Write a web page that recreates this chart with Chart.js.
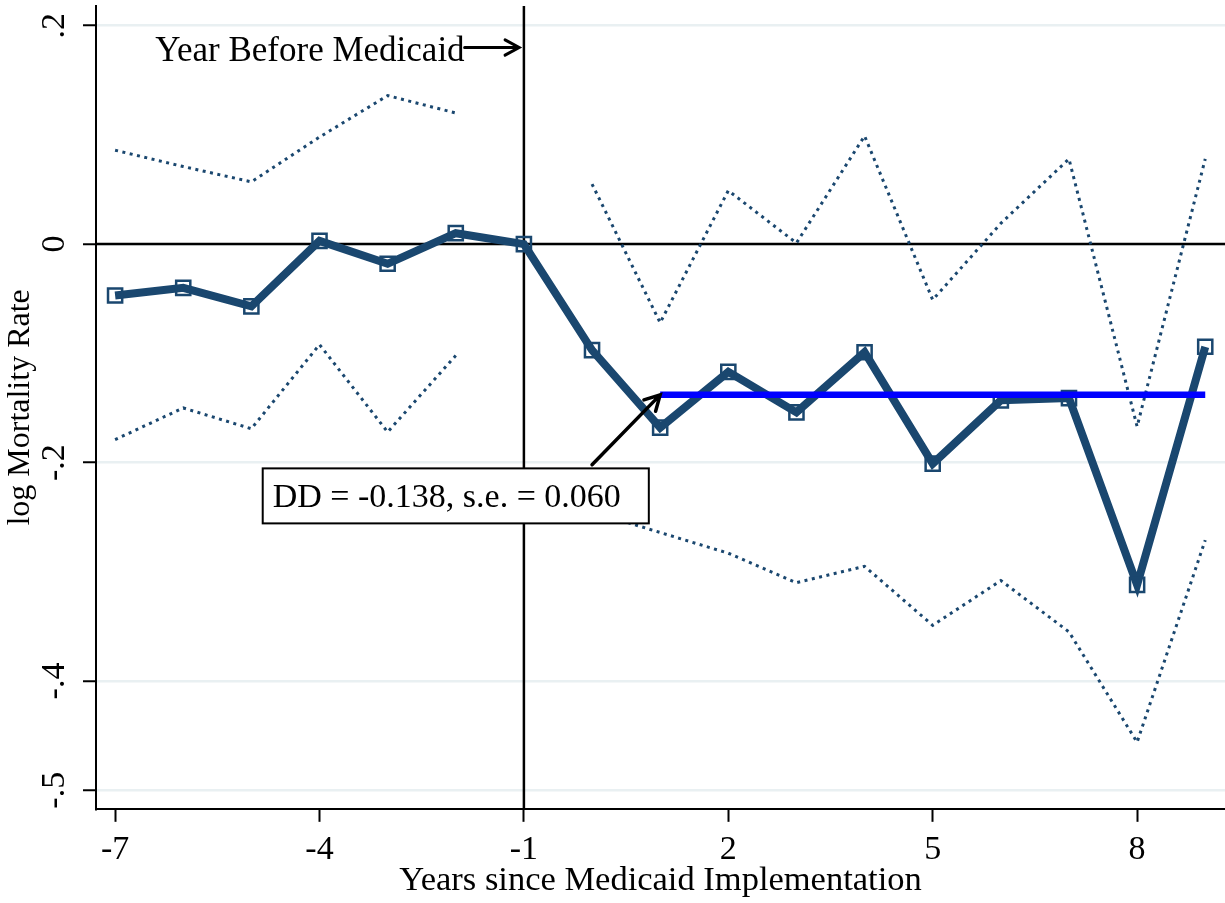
<!DOCTYPE html>
<html>
<head>
<meta charset="utf-8">
<script src="https://cdn.jsdelivr.net/npm/chart.js@4.4.0/dist/chart.umd.min.js"></script>
<style>
    html, body { margin: 0; padding: 0; background: #fff; }
    #wrap { width: 1225px; height: 903px; }
</style>
</head>
<body>
<div id="wrap"><canvas id="myChart"></canvas></div>
<script>
// years relative to the first year of Medicaid
const years = [-7, -6, -5, -4, -3, -2, -1, 0, 1, 2, 3, 4, 5, 6, 7, 8, 9];
// point estimates of log mortality rate
const estimate = [-0.047, -0.040, -0.057, 0.003, -0.018, 0.010, 0, -0.097, -0.168, -0.117, -0.154, -0.099, -0.201, -0.143, -0.141, -0.312, -0.094];
// 95% confidence band (no band for the reference year)
const upperCI = [0.086, 0.071, 0.057, 0.098, 0.136, 0.120, null, 0.055, -0.072, 0.049, 0.001, 0.099, -0.051, 0.019, 0.078, -0.167, 0.078];
const lowerCI = [-0.179, -0.150, -0.169, -0.092, -0.172, -0.102, null, -0.245, -0.264, -0.283, -0.310, -0.295, -0.349, -0.308, -0.355, -0.456, -0.271];
// difference-in-differences estimate and the years it covers
const ddValue = -0.138;
const ddSE = 0.060;
const ddYears = [1, 9];

const xTicks = [-7, -4, -1, 2, 5, 8];
const yTicks = [0.2, 0, -0.2, -0.4, -0.5];

const navy = "#1a476f";
const serif = "'Liberation Serif', 'Times New Roman', serif";

function stataLabel(v) {
    if (v === 0) return "0";
    return (v < 0 ? "-" : "") + String(Math.abs(v)).replace(/^0/, "");
}

function arrow(ctx, x1, y1, x2, y2, head) {
    const a = Math.atan2(y2 - y1, x2 - x1);
    ctx.beginPath();
    ctx.moveTo(x1, y1);
    ctx.lineTo(x2, y2);
    ctx.moveTo(x2 - head * Math.cos(a - 0.5), y2 - head * Math.sin(a - 0.5));
    ctx.lineTo(x2, y2);
    ctx.lineTo(x2 - head * Math.cos(a + 0.5), y2 - head * Math.sin(a + 0.5));
    ctx.stroke();
}

// the plot region runs right up to the canvas edges, so no edge room for labels
const noEdgePadding = {
    id: "noEdgePadding",
    beforeLayout(chart) {
        Object.values(chart.scales).forEach(s => {
            s.getPadding = () => ({ left: 0, top: 0, right: 0, bottom: 0 });
        });
    }
};

const annotations = {
    id: "annotations",
    beforeDatasetsDraw(chart) {
        const { ctx, chartArea, scales: { x, y } } = chart;
        ctx.save();
        ctx.strokeStyle = "black";
        ctx.lineWidth = 2.5;
        ctx.beginPath();
        const vx = x.getPixelForValue(-1);
        ctx.moveTo(vx, chartArea.top);
        ctx.lineTo(vx, chartArea.bottom);
        const hy = y.getPixelForValue(0);
        ctx.moveTo(chartArea.left, hy);
        ctx.lineTo(chartArea.right, hy);
        ctx.stroke();
        ctx.restore();
    },
    afterDatasetsDraw(chart) {
        const { ctx, scales: { x, y } } = chart;
        ctx.save();
        ctx.strokeStyle = "black";
        ctx.fillStyle = "black";
        ctx.lineWidth = 3;
        ctx.lineCap = "round";

        // "Year Before Medicaid" label with arrow to the reference line
        const ax1 = x.getPixelForValue(-1.87);
        const ay = y.getPixelForValue(0.180);
        arrow(ctx, ax1, ay, x.getPixelForValue(-1.07), ay, 16);
        ctx.font = "35px " + serif;
        ctx.textAlign = "right";
        ctx.textBaseline = "middle";
        ctx.fillText("Year Before Medicaid", ax1, y.getPixelForValue(0.176));

        // DD box with arrow to the estimate line
        ctx.lineWidth = 3.5;
        arrow(ctx, x.getPixelForValue(0.0), y.getPixelForValue(-0.202),
            x.getPixelForValue(ddYears[0]), y.getPixelForValue(ddValue), 17);
        ctx.font = "34px " + serif;
        const txt = "DD = " + ddValue.toFixed(3) + ", s.e. = " + ddSE.toFixed(3);
        const cx = x.getPixelForValue(-2.0);
        const cy = y.getPixelForValue(-0.2305);
        const w = ctx.measureText(txt).width + 38;
        const h = 55;
        ctx.fillStyle = "white";
        ctx.fillRect(cx - w / 2, cy - h / 2, w, h);
        ctx.lineWidth = 2;
        ctx.strokeRect(cx - w / 2, cy - h / 2, w, h);
        ctx.fillStyle = "black";
        ctx.textAlign = "left";
        ctx.fillText(txt, cx - w / 2 + 10, cy + 2);
        ctx.restore();
    }
};

const data = {
    datasets: [
        {
            label: "DD",
            data: ddYears.map(v => ({ x: v, y: ddValue })),
            borderColor: "#0000ff",
            borderWidth: 6.5,
            pointRadius: 0,
        },
        {
            label: "Estimate",
            data: years.map((v, i) => ({ x: v, y: estimate[i] })),
            borderColor: navy,
            borderWidth: 8,
            pointStyle: "rect",
            pointRadius: 10,
            pointBorderWidth: 2.5,
            pointBorderColor: navy,
            pointBackgroundColor: "rgba(255,255,255,0)",
        },
        {
            label: "Upper",
            data: years.map((v, i) => ({ x: v, y: upperCI[i] })),
            borderColor: navy,
            borderWidth: 3,
            borderDash: [3, 4.5],
            pointRadius: 0,
            spanGaps: false,
        },
        {
            label: "Lower",
            data: years.map((v, i) => ({ x: v, y: lowerCI[i] })),
            borderColor: navy,
            borderWidth: 3,
            borderDash: [3, 4.5],
            pointRadius: 0,
            spanGaps: false,
        },
    ],
};

const config = {
    type: "line",
    data: data,
    options: {
        responsive: true,
        maintainAspectRatio: false,
        animation: false,
        layout: { autoPadding: false, padding: { left: 1.5, top: 6, right: 0, bottom: 20 } },
        plugins: { legend: { display: false }, tooltip: { enabled: false } },
        scales: {
            x: {
                type: "linear",
                min: -7.28,
                max: 9.29,
                afterBuildTicks: axis => { axis.ticks = xTicks.map(v => ({ value: v })); },
                grid: { drawOnChartArea: false, tickLength: 13, tickColor: "black", tickWidth: 2 },
                border: { color: "black", width: 2 },
                ticks: { color: "black", font: { family: serif, size: 34, lineHeight: 1.56 }, padding: 2,
                    maxRotation: 0, autoSkip: false, callback: v => String(v) },
                title: { display: true, text: "Years since Medicaid Implementation", color: "black",
                    font: { family: serif, size: 34.5, lineHeight: 0.12 }, padding: 0 },
            },
            y: {
                type: "linear",
                min: -0.517,
                max: 0.218,
                afterBuildTicks: axis => { axis.ticks = yTicks.map(v => ({ value: v })); },
                grid: { color: "#e9f0f2", lineWidth: 2.5, tickLength: 13, tickColor: "black", tickWidth: 2 },
                border: { color: "black", width: 2 },
                ticks: { color: "black", font: { family: serif, size: 34, lineHeight: 0.68 }, padding: 10,
                    minRotation: 90, maxRotation: 90, crossAlign: "center", autoSkip: false, callback: stataLabel },
                title: { display: true, text: "log Mortality Rate", color: "black",
                    font: { family: serif, size: 32, lineHeight: 1.2 }, padding: 0 },
            },
        },
    },
    plugins: [noEdgePadding, annotations],
};

const myChart = new Chart(document.getElementById("myChart"), config);
</script>
</body>
</html>
